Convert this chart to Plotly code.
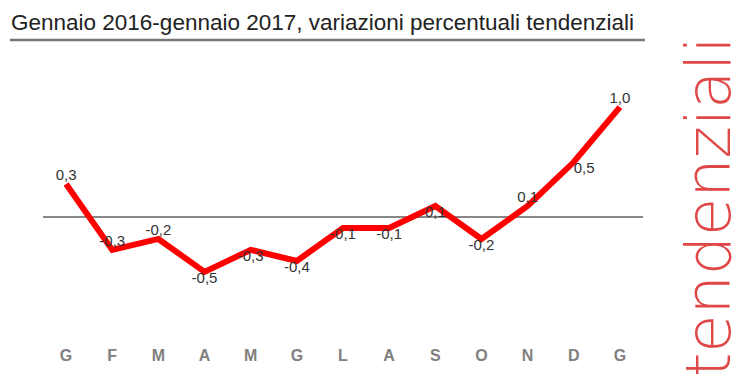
import plotly.graph_objects as go

months = ["G", "F", "M", "A", "M", "G", "L", "A", "S", "O", "N", "D", "G"]
values = [0.3, -0.3, -0.2, -0.5, -0.3, -0.4, -0.1, -0.1, 0.1, -0.2, 0.1, 0.5, 1.0]
label_pos = ["top center", "top center", "top center", "bottom center", "bottom center",
             "bottom center", "bottom center", "bottom center", "bottom center",
             "bottom center", "top center", "bottom right", "top center"]
title_text = "Gennaio 2016-gennaio 2017, variazioni percentuali tendenziali"
side_text = "tendenziali"

OFF = 8  # page body margin
W, H = 732, 381
# plot area in page coordinates
L, R, T, B = 43, 643, 50, 340
PW, PH = R - L, B - T

def px(x):
    return (x - L) / PW

def py(y):
    return (B - y) / PH

xs = list(range(len(months)))
labels = [f"{v:.1f}".replace(".", ",") for v in values]

fig = go.Figure()
fig.add_trace(go.Scatter(
    x=xs, y=values, mode="lines+text",
    line=dict(color="#ff0000", width=6),
    text=labels, textposition=label_pos,
    textfont=dict(family="Liberation Sans Narrow, Arial Narrow, sans-serif", size=15, color="#333333"),
    cliponaxis=False, hoverinfo="skip", showlegend=False,
))

fig.update_layout(
    width=W, height=H,
    margin=dict(l=L - OFF, r=W - (R - OFF), t=T - OFF, b=H - (B - OFF)),
    paper_bgcolor="white", plot_bgcolor="white",
    xaxis=dict(range=[-0.5, 12.5], tickvals=xs, ticktext=months, showgrid=False,
               zeroline=False, showline=False, ticks="", ticklabelstandoff=4,
               tickfont=dict(family="Liberation Sans, Arial, sans-serif", size=16, color="#808080", weight="bold")),
    yaxis=dict(range=[-1.12, 1.52], showgrid=False, showticklabels=False, showline=False,
               zeroline=True, zerolinecolor="#888888", zerolinewidth=1.5, ticks=""),
    shapes=[dict(type="line", xref="paper", yref="paper", x0=px(10), x1=px(645),
                 y0=py(40), y1=py(40), line=dict(color="#777777", width=2.5))],
    annotations=[
        dict(text=title_text, xref="paper", yref="paper", x=px(9), y=py(22),
             xanchor="left", yanchor="middle", showarrow=False,
             font=dict(family="Liberation Sans Narrow, Arial Narrow, sans-serif", size=22.5, color="#222222")),
        dict(text=side_text, xref="paper", yref="paper", x=px(708), y=py(207),
             xanchor="center", yanchor="middle", showarrow=False, textangle=-90,
             font=dict(family="DejaVu Sans, sans-serif", size=62, color="#e04848", weight=200)),
    ],
)

fig.write_html("out.html")
